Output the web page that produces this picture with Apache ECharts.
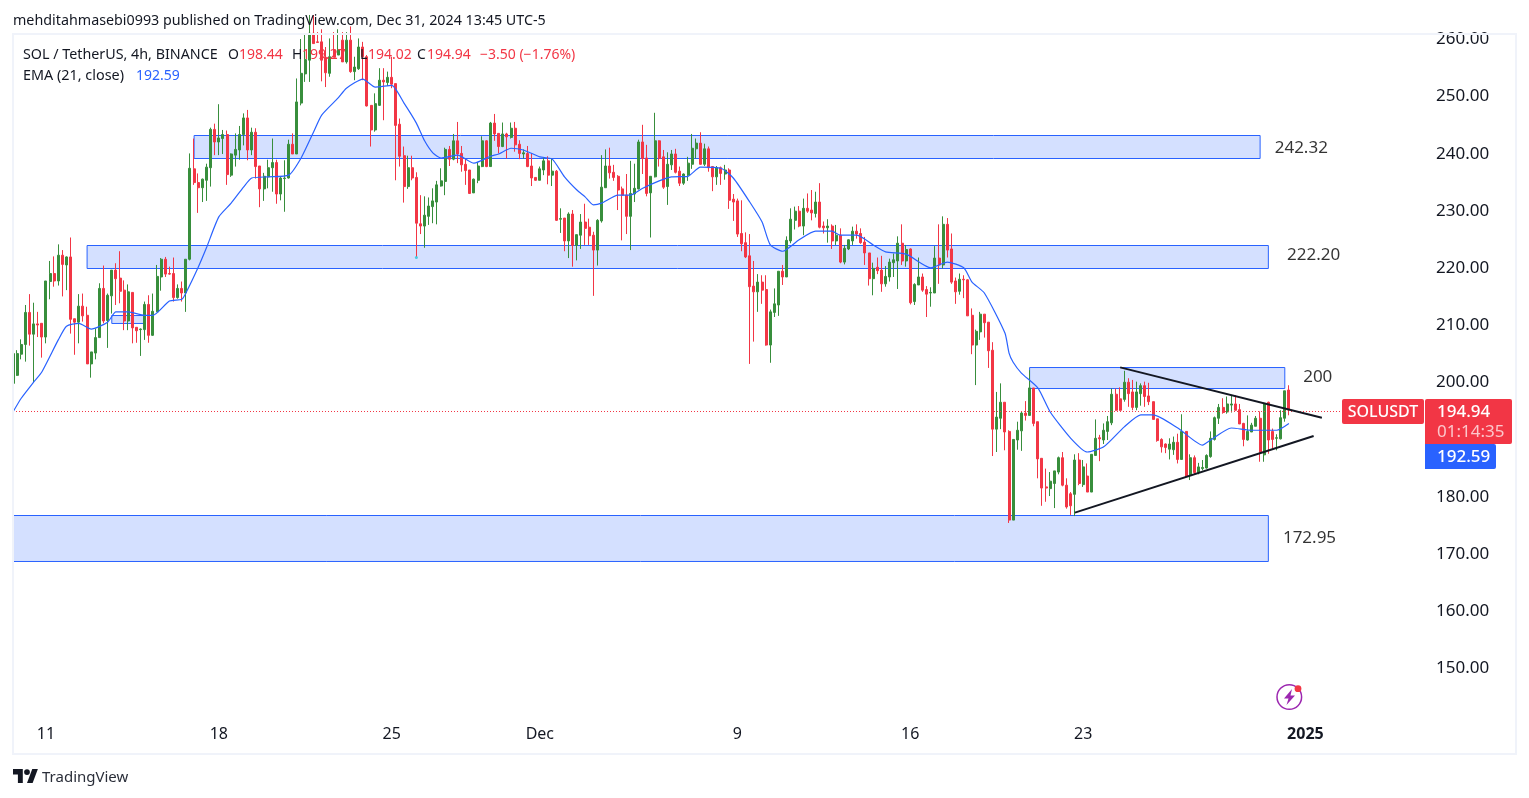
<!DOCTYPE html>
<html>
<head>
<meta charset="utf-8">
<title>SOL / TetherUS</title>
<script src="https://cdn.jsdelivr.net/npm/echarts@6/dist/echarts.min.js"></script>
<style>
  html, body { margin: 0; padding: 0; background: #fff; }
  #main { width: 1529px; height: 798px; }
</style>
</head>
<body>
<div id="main"></div>
<script>
// 4h candles
const opens = [
  199.6,201.0,204.7,206.4,212.0,208.2,210.0,210.1,207.7,217.4,
  218.8,217.5,222.0,220.3,221.7,210.9,210.3,213.1,211.5,203.0,
  204.9,207.6,216.2,210.6,214.9,219.4,218.0,215.9,210.5,215.5,
  209.4,209.0,209.0,213.4,208.0,212.1,218.2,221.3,218.8,218.8,
  214.6,216.2,215.4,221.3,237.1,234.7,233.8,235.1,237.3,244.0,
  241.8,242.4,243.1,236.0,239.5,240.4,243.1,246.0,240.4,243.5,
  237.6,233.6,235.7,237.3,238.2,232.7,235.4,235.5,241.4,239.7,
  248.6,253.7,256.1,260.8,259.3,259.3,256.6,253.8,257.9,257.0,
  259.6,255.8,259.6,254.1,254.6,258.4,256.7,248.2,243.9,248.2,
  252.6,252.2,253.1,252.0,244.9,239.4,234.0,237.3,235.6,227.5,
  227.1,228.8,230.5,231.3,234.1,234.9,240.5,238.8,242.0,239.8,
  237.9,236.9,232.9,235.1,237.5,242.0,237.5,245.1,243.3,241.0,
  243.2,242.6,244.2,241.4,239.7,239.8,237.6,235.6,235.1,236.9,
  238.5,236.0,236.7,228.3,228.5,224.5,229.2,223.7,225.5,227.8,
  226.9,225.5,222.9,228.0,233.8,237.6,236.5,235.8,233.6,232.5,
  228.8,232.7,233.6,241.8,239.0,232.9,235.7,242.0,239.2,234.0,
  237.8,239.7,236.7,234.6,236.0,237.9,240.6,241.6,237.9,240.6,
  237.5,235.7,237.3,236.2,236.9,231.8,231.5,225.8,224.2,221.9,
  216.6,215.6,217.3,216.0,206.3,212.0,213.3,219.2,218.2,224.5,
  228.1,229.7,227.1,230.2,229.9,229.3,231.3,227.1,226.8,227.1,
  224.5,225.5,220.8,223.1,224.5,226.2,225.8,224.3,222.4,217.9,
  219.9,219.4,217.0,218.2,220.7,221.0,224.1,221.0,223.1,213.9,
  216.8,218.2,216.0,215.4,215.4,221.5,220.3,227.4,223.1,217.5,
  215.7,217.8,217.7,211.5,206.3,208.6,211.7,210.3,205.4,191.6,
  193.5,196.3,191.2,175.7,189.7,191.3,194.4,194.0,198.8,192.9,
  186.5,181.5,181.2,182.1,184.1,186.6,181.8,180.3,180.2,186.2,
  181.9,183.4,180.6,187.0,190.1,189.7,191.2,192.7,197.7,196.9,
  196.8,199.8,198.1,195.4,197.8,199.2,197.4,196.4,193.4,189.8,
  189.0,188.1,188.0,189.3,186.3,191.2,183.6,186.6,184.0,184.7,
  184.8,186.8,189.8,193.5,195.4,194.6,195.8,196.0,195.0,192.6,
  189.7,191.1,192.1,193.5,187.1,196.3,191.2,190.0,189.9,193.5,198.44
];
const closes = [
  204.8,204.8,206.4,212.0,208.2,210.0,209.8,207.7,217.5,218.8,
  217.5,222.0,220.4,221.7,210.8,210.3,213.1,211.4,203.0,205.1,
  207.6,216.2,210.5,215.0,219.4,217.9,215.7,210.5,215.6,209.3,
  208.8,209.1,213.4,208.0,212.2,218.3,221.3,218.7,218.7,214.6,
  216.2,215.4,221.3,237.2,234.7,233.8,235.3,237.4,244.0,241.8,
  242.5,243.1,236.1,239.7,240.5,243.1,246.0,240.4,243.5,237.5,
  233.6,235.8,237.3,238.2,232.7,235.5,235.5,241.4,239.7,248.8,
  253.8,256.2,260.8,259.0,259.2,256.1,253.9,256.7,256.6,257.9,
  255.8,259.6,254.1,254.9,258.4,256.7,248.1,243.9,248.5,252.6,
  252.3,253.1,251.9,244.7,239.3,234.0,237.3,235.5,227.6,227.1,
  229.0,230.6,231.5,234.3,235.0,240.5,238.8,242.0,239.7,237.8,
  236.8,232.8,235.3,237.6,242.0,237.5,245.1,243.2,241.0,243.2,
  242.7,244.2,241.3,239.8,239.9,237.5,235.5,235.1,237.1,238.5,
  236.0,236.7,228.1,228.4,224.5,229.2,223.7,225.6,227.8,226.7,
  225.4,222.9,228.1,233.9,237.6,236.4,235.6,233.4,232.5,228.8,
  232.8,233.7,241.8,238.9,232.8,235.8,242.0,238.9,233.9,237.9,
  239.7,236.5,234.6,236.2,238.1,240.7,241.6,237.9,240.6,237.3,
  235.7,237.3,236.3,236.9,231.6,231.3,225.7,224.0,221.7,216.5,
  215.6,217.3,215.9,206.3,212.1,213.5,219.2,218.2,224.6,228.3,
  229.7,227.1,230.2,229.7,229.4,231.3,226.9,226.8,227.1,224.5,
  225.5,220.8,223.2,224.7,226.2,225.7,224.2,222.4,217.9,219.7,
  219.3,217.0,218.3,220.8,221.2,224.1,221.0,223.0,213.7,216.9,
  218.2,215.9,215.2,215.5,221.5,220.3,227.4,222.9,217.3,215.6,
  217.8,217.7,211.4,206.3,208.7,211.7,210.2,205.3,191.6,193.7,
  196.3,191.1,175.7,189.8,191.4,194.4,194.0,198.8,192.6,186.4,
  181.3,181.3,182.5,184.3,186.6,181.8,178.0,178.2,186.2,182.1,
  185.0,180.6,187.2,190.0,189.9,191.4,192.9,197.7,194.9,194.9,
  199.8,197.8,195.4,198.1,199.2,197.3,196.4,193.3,189.6,188.5,
  188.4,189.0,189.3,186.3,191.2,183.4,186.6,184.0,185.0,184.9,
  187.0,190.0,193.6,195.4,194.5,196.0,196.0,194.9,192.5,189.8,
  191.2,192.3,193.5,187.5,196.1,189.7,189.8,190.1,193.6,198.3,194.94
];
const lows = [
  198.7,200.9,203.8,203.4,206.2,199.7,207.7,204.1,206.6,214.3,
  216.5,216.7,214.8,215.9,208.3,204.6,206.6,210.4,203.0,200.6,
  203.8,207.6,210.1,205.8,211.8,213.3,213.6,208.9,208.9,206.6,
  206.7,204.4,207.2,206.7,207.9,212.1,215.8,218.2,218.6,213.9,
  214.4,213.9,212.1,221.1,234.3,229.4,231.3,231.5,234.0,239.5,
  239.5,239.7,234.3,235.7,237.5,238.7,241.2,238.6,239.5,235.4,
  230.4,231.5,233.7,233.1,231.0,231.6,229.6,235.4,239.7,239.7,
  248.2,252.3,252.3,259.0,259.1,252.4,251.4,253.2,256.6,257.0,
  255.8,255.5,253.9,252.6,254.4,252.6,248.0,241.0,243.6,248.1,
  245.6,251.6,251.2,235.1,237.5,231.2,233.6,235.1,221.7,225.7,
  223.3,227.3,227.6,227.4,234.0,232.5,237.6,238.6,238.1,236.6,
  234.3,232.7,232.9,234.6,237.4,237.4,237.5,242.0,239.8,240.9,
  238.9,242.4,240.1,238.8,238.9,237.4,234.1,235.0,235.1,236.0,
  234.4,234.1,228.0,225.9,222.7,221.5,220.0,221.1,223.1,223.8,
  223.8,214.9,220.2,227.7,233.8,235.4,235.0,229.9,224.6,225.7,
  222.9,231.3,233.5,236.2,232.3,225.1,235.6,237.5,233.6,230.8,
  236.9,236.3,234.1,234.3,235.0,237.1,238.9,237.8,237.6,236.6,
  233.2,234.3,234.3,235.2,230.1,228.0,225.2,222.7,221.5,203.0,
  206.9,212.1,213.5,206.2,203.2,211.2,211.4,216.8,218.2,224.1,
  226.5,226.9,225.5,229.4,228.1,228.6,226.7,225.8,224.2,223.1,
  223.8,220.6,220.4,222.9,223.8,224.9,224.0,220.3,216.7,215.0,
  218.7,215.6,216.5,217.4,218.2,216.1,220.3,220.0,213.4,213.3,
  216.8,215.6,211.2,213.0,215.4,217.0,219.7,221.6,217.0,213.5,
  215.1,214.5,211.4,204.7,199.3,207.2,207.6,202.3,186.9,187.6,
  191.6,187.9,175.2,175.7,188.0,187.8,193.1,194.0,192.1,183.0,
  178.2,178.9,179.9,177.8,183.7,181.6,177.7,176.6,176.4,181.8,
  181.5,180.6,180.6,187.0,186.0,189.0,189.7,192.3,194.8,194.8,
  196.4,195.5,194.9,194.9,195.7,195.5,195.8,193.3,189.4,187.5,
  187.4,186.3,187.1,185.6,186.3,183.2,182.7,183.6,183.7,184.4,
  184.7,186.6,189.6,192.5,194.3,194.3,194.5,194.8,192.5,188.6,
  189.6,191.1,192.1,185.9,185.9,187.3,188.2,187.9,189.8,192.9,194.02
];
const highs = [
  204.8,205.4,207.3,213.3,215.2,213.7,212.1,210.1,217.5,221.0,
  221.8,223.9,222.9,221.8,225.1,210.9,215.2,215.3,213.0,205.1,
  209.2,217.1,220.2,215.3,219.4,220.6,222.7,217.6,216.9,215.5,
  209.4,209.2,213.9,215.0,215.3,220.3,221.5,221.7,220.0,221.6,
  216.9,217.4,221.3,239.8,242.4,236.3,235.4,238.0,244.3,245.0,
  248.4,243.9,243.8,239.8,243.3,244.6,246.8,247.4,244.3,244.2,
  237.6,236.4,238.7,242.4,238.7,235.7,238.6,242.2,243.3,252.9,
  259.8,260.8,264.0,264.0,261.0,261.5,258.4,259.9,261.0,261.5,
  261.0,261.0,262.0,256.7,259.9,259.3,257.0,248.2,250.3,254.7,
  254.7,254.1,256.7,252.0,245.9,241.0,239.4,239.4,236.5,232.5,
  232.3,232.1,233.7,235.0,237.2,240.8,241.1,243.2,245.3,241.1,
  238.9,236.9,235.4,238.3,242.8,242.1,245.3,246.7,243.3,245.2,
  243.4,245.2,245.3,242.1,240.5,241.1,239.8,235.6,237.5,239.1,
  239.3,238.9,236.9,230.2,228.5,229.5,229.9,225.6,229.2,231.0,
  228.4,226.1,228.3,239.5,240.5,240.8,237.8,236.0,234.0,236.2,
  238.5,238.0,242.2,244.8,241.3,235.8,246.9,242.1,240.4,240.0,
  240.4,240.6,237.5,236.3,239.2,243.2,242.4,243.5,241.5,241.0,
  237.6,237.6,237.5,237.8,237.2,232.7,231.9,231.6,226.0,225.7,
  221.0,218.7,218.5,218.5,212.5,216.2,219.2,220.3,225.3,230.2,
  230.5,230.6,231.9,232.8,233.4,233.1,234.6,227.9,228.3,227.4,
  227.3,226.7,223.8,224.8,227.0,227.4,226.7,225.2,222.4,220.7,
  221.6,221.9,220.1,221.4,222.3,225.3,227.4,223.8,223.2,217.1,
  221.6,218.8,216.6,216.4,223.6,227.4,228.8,228.5,225.8,218.1,
  218.8,218.5,217.8,212.7,209.0,212.1,211.7,210.3,206.8,198.1,
  199.6,196.3,191.4,189.8,192.9,194.7,196.5,201.9,198.8,192.9,
  186.5,184.7,184.1,184.3,186.8,187.6,183.0,180.6,187.2,187.4,
  186.2,185.6,187.2,193.3,190.6,192.6,193.9,198.7,198.7,198.9,
  201.8,200.5,200.2,199.9,199.6,199.9,199.7,196.4,193.4,190.0,
  189.1,190.0,190.3,190.8,194.2,191.2,187.2,187.0,185.7,186.2,
  187.2,191.2,193.8,196.0,197.0,197.3,197.4,197.5,196.0,192.7,
  194.0,192.7,193.9,194.7,196.2,196.4,191.7,190.7,194.9,198.3,199.27
];

// EMA 21, read at its visible bends: bar number and price
const emaBars = [0,2,5,7,11,13,16,19,23,25,28,32,34,38,41,42,45,47,50,53,56,58,62,67,70,73,75,79,81,85,88,92,95,98,100,102,104,108,112,116,118,121,124,128,131,134,137,139,141,143,147,150,153,157,160,164,167,172,175,179,182,184,187,191,195,199,201,205,209,212,217,223,227,231,233,236,241,242,243,245,249,252,257,261,265,270,274,277,283,289,291,296,301,307,310];
const emaPrices = [194.6,197.0,199.8,201.6,207.2,209.6,210.1,209.1,210.3,212.1,212.1,211.5,211.5,214.0,214.3,215.4,219.9,223.3,228.7,231.1,233.9,235.5,235.7,236.0,239.0,243.5,246.5,249.5,251.2,252.8,251.4,251.7,248.6,245.1,242.0,239.9,239.0,239.5,238.1,239.3,239.7,240.7,240.4,239.2,238.8,235.7,233.4,232.2,230.8,231.1,232.5,232.5,233.7,235.0,235.7,235.8,237.4,237.2,235.5,231.3,227.8,223.8,222.7,224.7,226.2,226.2,225.5,225.5,223.8,222.6,222.2,219.8,220.8,219.8,217.3,215.4,208.4,204.9,203.3,201.4,198.8,194.6,190.0,187.6,188.5,192.0,194.1,194.1,191.8,188.8,189.7,191.8,191.4,191.4,192.59];

// drawn zones: first bar, last bar, low, high
const zoneStart = [44, 18, 0, 247, 24];
const zoneEnd = [303, 305, 305, 309, 32];
const zoneLow = [238.91, 219.68, 168.46, 198.70, 210.07];
const zoneHigh = [242.93, 223.70, 176.50, 202.37, 211.46];

// notes next to the zones
const noteText = ['242.32', '222.20', '200', '172.95'];
const noteBar = [313, 316, 317, 315];
const notePrice = [240.7, 222.0, 200.7, 172.5];

// trend lines: [bar, price]
const fallingLine = [[269, 202.4], [318, 193.6]];
const risingLine = [[258, 177.0], [316, 190.4]];

// dotted line of the last price, as it sits on the scale
const priceLine = 194.7;
const lowMark = [[98, 221.6]];

// time axis: 6 bars a day, empty slots keep the space right of the last bar
const barSlots = 366;
const dayBars = [8, 50, 92, 128, 176, 218, 260, 314];
const dayLabels = ['11', '18', '25', 'Dec', '9', '16', '23', '2025'];
const categories = [];
for (let i = 0; i < barSlots; i++) {
  const k = dayBars.indexOf(i);
  categories.push(k < 0 ? '' : dayLabels[k]);
}

const UP = '#388E3C';
const DOWN = '#F23645';
const BLUE = '#2962FF';
const INK = '#131722';
const FONT = '"Noto Sans", sans-serif';

const candles = opens.map((o, i) => [o, closes[i], lows[i], highs[i]]);
const emaLine = emaBars.map((b, i) => [b, emaPrices[i]]);
const zones = zoneStart.map((s, i) => [
  { coord: [s, zoneHigh[i]] },
  { coord: [zoneEnd[i], zoneLow[i]] }
]);
const notes = noteText.map((t, i) => ({ name: t, value: [noteBar[i], notePrice[i]] }));

function txt(x, y, text, fill, size, extra) {
  return {
    type: 'text', x: x, y: y, z: 100,
    style: Object.assign({
      text: text, fill: fill, font: (size || 14) + 'px ' + FONT,
      textVerticalAlign: 'middle'
    }, extra || {})
  };
}

const chart = echarts.init(document.getElementById('main'), null, { renderer: 'canvas' });
chart.setOption({
  animation: false,
  backgroundColor: '#fff',
  grid: { left: 13, top: 35, width: 1502.3, height: 689.3 },
  xAxis: {
    type: 'category',
    data: categories,
    boundaryGap: false,
    axisLine: { show: false },
    axisTick: { show: false },
    splitLine: { show: false },
    axisLabel: {
      interval: 0,
      margin: 2,
      color: INK,
      fontFamily: FONT,
      fontSize: 16,
      formatter: function (v) { return v === '2025' ? '{b|2025}' : v; },
      rich: { b: { fontWeight: 'bold', fontSize: 16, fontFamily: FONT, color: INK } }
    }
  },
  yAxis: {
    type: 'value',
    position: 'right',
    min: 140,
    max: 260.5,
    interval: 10,
    scale: true,
    axisLine: { show: false },
    axisTick: { show: false },
    splitLine: { show: false },
    axisLabel: {
      inside: true,
      margin: 26,
      verticalAlign: 'top',
      lineHeight: 3,
      color: INK,
      fontFamily: FONT,
      fontSize: 17,
      showMinLabel: false,
      showMaxLabel: false,
      formatter: function (v) { return v.toFixed(2); }
    }
  },
  series: [
    {
      type: 'candlestick',
      data: candles,
      barWidth: 2.5,
      itemStyle: { color: UP, color0: DOWN, borderColor: UP, borderColor0: DOWN, borderWidth: 1 },
      markArea: {
        silent: true,
        itemStyle: { color: 'rgba(41,98,255,0.2)', borderColor: BLUE, borderWidth: 1 },
        data: zones
      },
      markLine: {
        silent: true,
        symbol: 'none',
        label: { show: false },
        lineStyle: { color: DOWN, type: [1, 2], width: 1 },
        data: [[{ coord: [0, priceLine] }, { coord: [323, priceLine] }]]
      }
    },
    {
      name: 'EMA',
      type: 'line',
      data: emaLine,
      symbol: 'none',
      smooth: 0.2,
      z: 4,
      lineStyle: { color: BLUE, width: 1.2 }
    },
    {
      type: 'line', data: fallingLine, symbol: 'none', z: 5,
      lineStyle: { color: INK, width: 2 }
    },
    {
      type: 'line', data: risingLine, symbol: 'none', z: 5,
      lineStyle: { color: INK, width: 2 }
    },
    {
      type: 'scatter', data: lowMark, symbolSize: 3, z: 6,
      itemStyle: { color: '#26C6DA' }
    },
    {
      type: 'scatter',
      data: notes,
      symbolSize: 1,
      z: 6,
      itemStyle: { color: 'transparent' },
      label: {
        show: true,
        position: 'inside',
        color: '#000',
        fontFamily: FONT,
        fontSize: 17,
        formatter: function (p) { return p.name; }
      }
    }
  ],
  graphic: [
    // frame
    { type: 'rect', shape: { x: 13, y: 34, width: 1503, height: 720 }, z: 50, silent: true,
      style: { fill: 'none', stroke: '#F0F3FA', lineWidth: 2 } },

    txt(13, 21, 'mehditahmasebi0993 published on TradingView.com, Dec 31, 2024 13:45 UTC-5', INK, 14.3),

    // legend
    txt(23, 55, 'SOL / TetherUS, 4h, BINANCE', INK, 14.3),
    txt(228, 55, 'O', INK, 14),
    txt(239, 55, '198.44', DOWN, 14),
    txt(292, 55, 'H', INK, 14),
    txt(302, 55, '199.27', DOWN, 14),
    txt(360, 55, 'L', INK, 14),
    txt(368, 55, '194.02', DOWN, 14),
    txt(417, 55, 'C', INK, 14),
    txt(427, 55, '194.94', DOWN, 14),
    txt(480, 55, '\u22123.50 (\u22121.76%)', DOWN, 14),
    txt(23, 76, 'EMA (21, close)', INK, 14.4),
    txt(136, 76, '192.59', BLUE, 14),

    // price badges
    { type: 'rect', z: 60, shape: { x: 1342, y: 399, width: 82, height: 25, r: 2 }, style: { fill: DOWN } },
    txt(1383, 412.5, 'SOLUSDT', '#fff', 16, { textAlign: 'center', font: '500 16px ' + FONT }),
    { type: 'rect', z: 60, shape: { x: 1425, y: 399, width: 87, height: 45, r: [2, 2, 2, 0] }, style: { fill: DOWN } },
    txt(1437, 412.5, '194.94', '#fff', 17, { font: '500 17px ' + FONT }),
    txt(1437, 432, '01:14:35', 'rgba(255,255,255,0.72)', 17),
    { type: 'rect', z: 60, shape: { x: 1425, y: 444, width: 71, height: 25, r: [0, 2, 2, 0] }, style: { fill: BLUE } },
    txt(1437, 457.5, '192.59', '#fff', 17, { font: '500 17px ' + FONT }),

    // lightning badge
    { type: 'circle', z: 60, shape: { cx: 1289.3, cy: 697, r: 12.3 }, style: { fill: '#fff', stroke: '#9C27B0', lineWidth: 1.5 } },
    { type: 'polygon', z: 61, shape: { points: [[1292, 689], [1284, 698.5], [1288.5, 698.5], [1286.5, 705], [1295, 695.5], [1290.5, 695.5]] }, style: { fill: '#9C27B0' } },
    { type: 'circle', z: 62, shape: { cx: 1298, cy: 688.7, r: 3.4 }, style: { fill: DOWN } },

    // logo
    { type: 'polygon', z: 60, shape: { points: [[22.8, 783], [17.9, 783], [17.9, 774.5], [13, 774.5], [13, 769], [22.8, 769]] }, style: { fill: INK } },
    { type: 'polygon', z: 60, shape: { points: [[32.6, 783], [27, 783], [32.25, 769], [37.85, 769]] }, style: { fill: INK } },
    { type: 'circle', z: 60, shape: { cx: 27, cy: 772.1, r: 2.9 }, style: { fill: INK } },
    txt(42, 778, 'TradingView', '#2A2E39', 15)
  ]
});
</script>
</body>
</html>
